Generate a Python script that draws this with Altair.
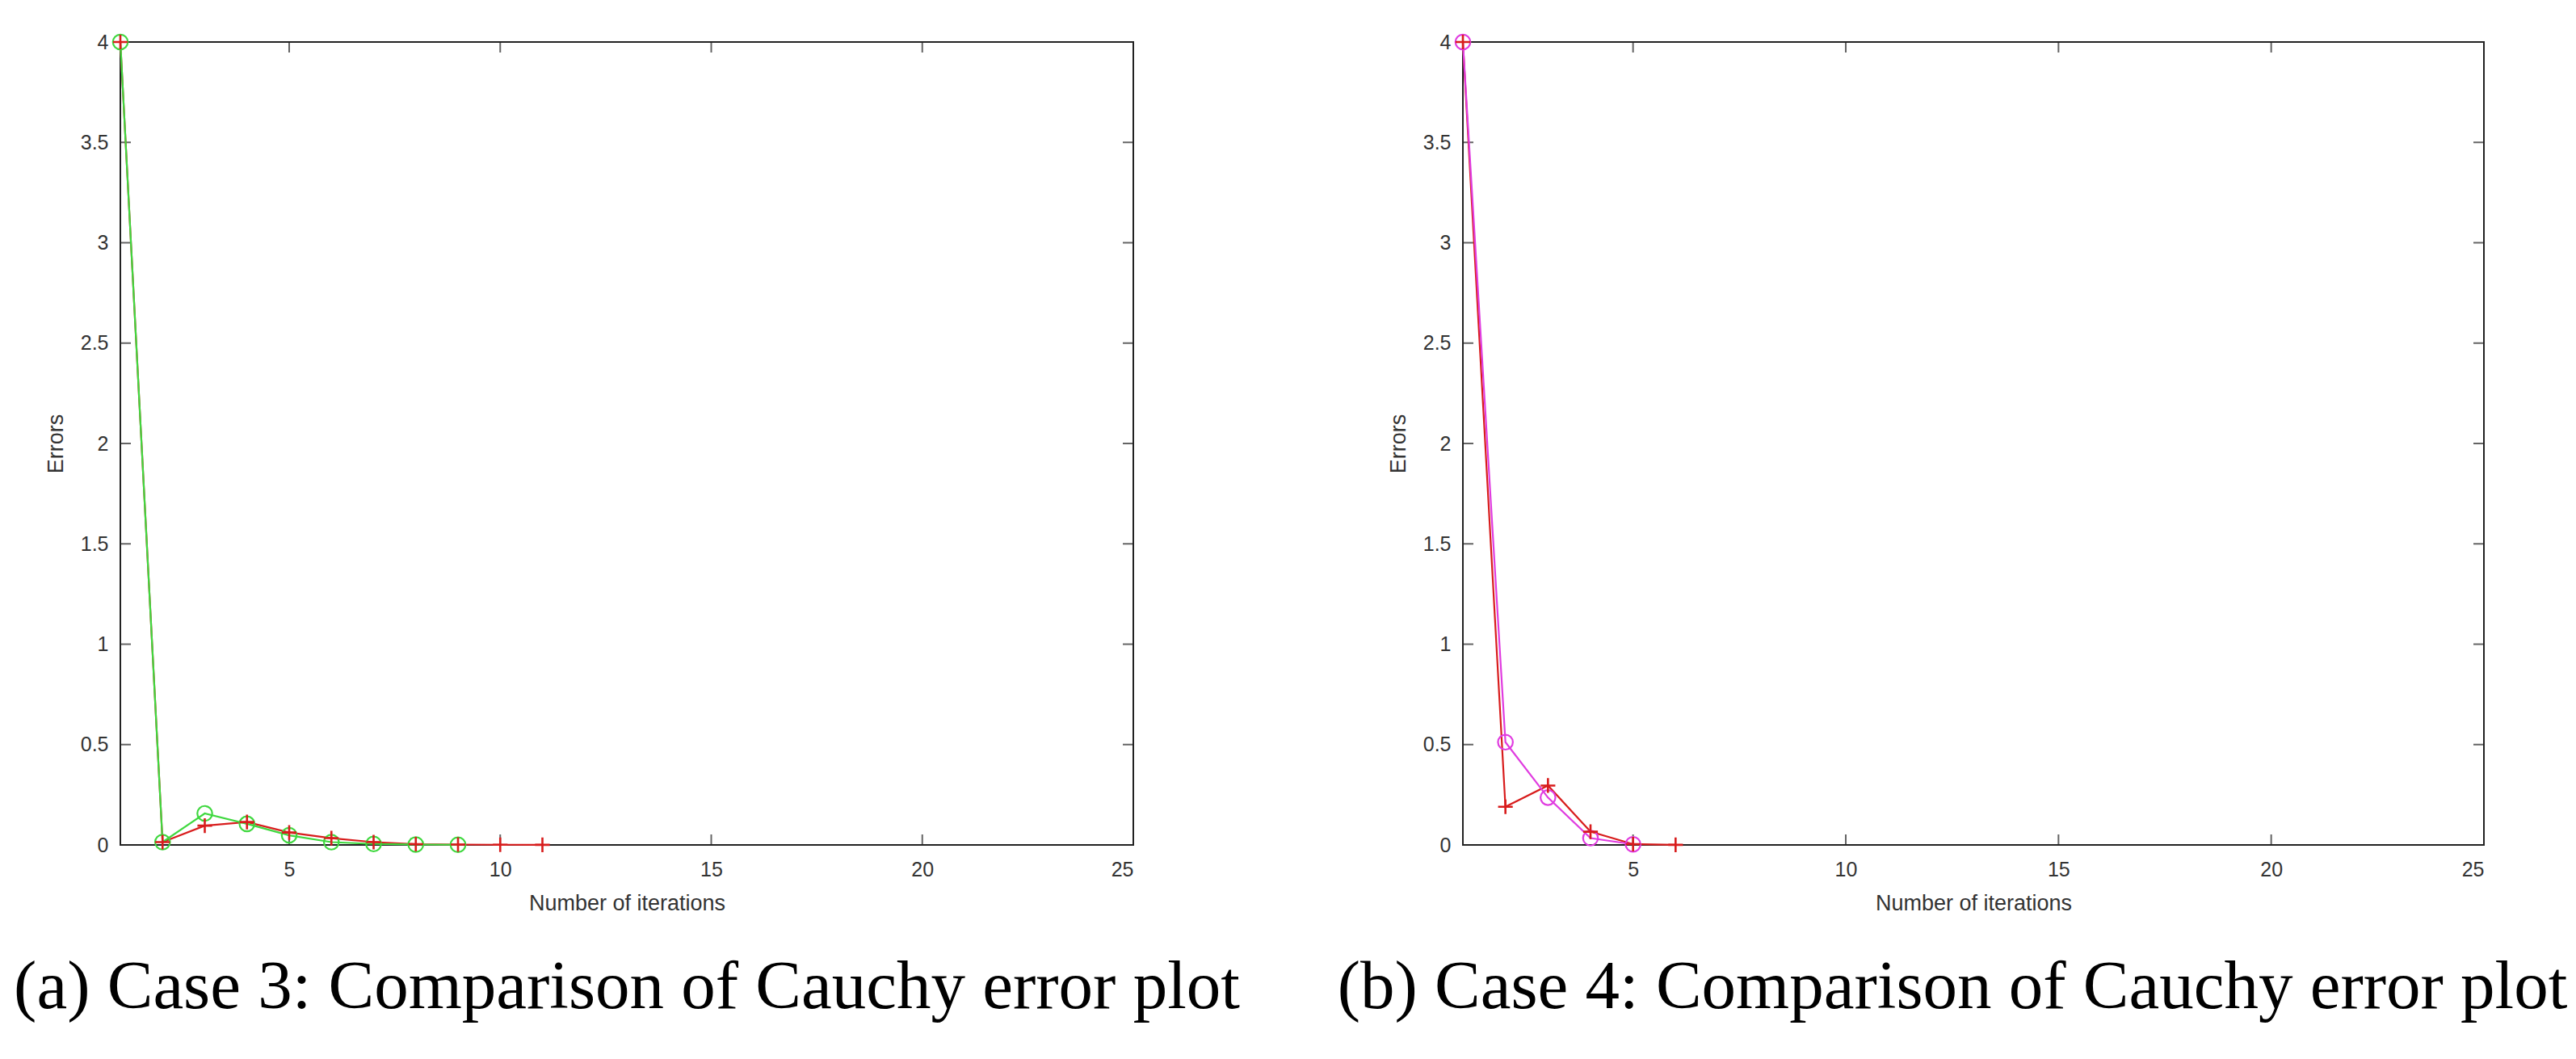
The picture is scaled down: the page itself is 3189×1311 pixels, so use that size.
import altair as alt
import pandas as pd

# ---- data ----
iters_a_red = [1, 2, 3, 4, 5, 6, 7, 8, 9, 10, 11]
err_a_red = [4.0, 0.014, 0.096, 0.114, 0.062, 0.034, 0.014, 0.004, 0.002, 0.001, 0.0005]
iters_a_green = [1, 2, 3, 4, 5, 6, 7, 8, 9]
err_a_green = [4.0, 0.014, 0.157, 0.105, 0.048, 0.014, 0.005, 0.002, 0.001]

iters_b_red = [1, 2, 3, 4, 5, 6]
err_b_red = [4.0, 0.19, 0.296, 0.066, 0.004, 0.0005]
iters_b_mag = [1, 2, 3, 4, 5]
err_b_mag = [4.0, 0.512, 0.236, 0.034, 0.003]

x_ticks = [5, 10, 15, 20, 25]
y_ticks = [0, 0.5, 1, 1.5, 2, 2.5, 3, 3.5, 4]
x_domain = [1, 25]
y_domain = [0, 4]

caption_a = "(a) Case 3: Comparison of Cauchy error plot"
caption_b = "(b) Case 4: Comparison of Cauchy error plot"

RED = "#d81c1c"
GREEN = "#3fd83f"
MAGENTA = "#e03ce0"
PLUS = "M-1,0L1,0M0,-1L0,1"


def panel(series, width, height, caption, cap_dx):
    xs = alt.Scale(domain=x_domain, nice=False, zero=False)
    ys = alt.Scale(domain=y_domain, nice=False, zero=False)
    xax = alt.Axis(values=x_ticks, title="Number of iterations", labelExpr="'' + datum.value")
    yax = alt.Axis(values=y_ticks, title="Errors", labelExpr="'' + datum.value")

    # inward ticks on all four sides (clipped at the frame)
    xt = pd.DataFrame([{"t": t, "e": e} for e in y_domain for t in x_ticks])
    yt = pd.DataFrame([{"t": t, "e": e} for e in x_domain for t in y_ticks])
    tick_x = alt.Chart(xt).mark_tick(orient="vertical", size=26, thickness=2, color="#222", clip=True).encode(
        x=alt.X("t:Q", scale=xs, axis=xax), y=alt.Y("e:Q", scale=ys, axis=yax))
    tick_y = alt.Chart(yt).mark_tick(orient="horizontal", size=26, thickness=2, color="#222", clip=True).encode(
        y=alt.Y("t:Q", scale=ys), x=alt.X("e:Q", scale=xs))

    layers = []
    for it, er, color, marker in series:
        df = pd.DataFrame({"iter": it, "err": er})
        base = alt.Chart(df)
        x = alt.X("iter:Q", scale=xs)
        y = alt.Y("err:Q", scale=ys)
        line = base.mark_line(color=color, strokeWidth=2.2).encode(x=x, y=y, order="iter:Q")
        if marker == "plus":
            pts = base.mark_point(shape=PLUS, filled=False, size=330, strokeWidth=2.6,
                                  color=color, opacity=1).encode(x=x, y=y)
        else:
            pts = base.mark_point(shape="circle", filled=False, size=340, strokeWidth=2.2,
                                  color=color, opacity=1).encode(x=x, y=y)
        layers.append((line, pts))

    (l1, p1), (l2, p2) = layers
    ch = alt.layer(tick_x, tick_y, l1, l2, p2, p1).properties(
        width=width,
        height=height,
        title=alt.TitleParams(
            text=caption, orient="bottom", anchor="middle", frame="group", dx=cap_dx,
            font="Liberation Serif", fontSize=85, fontWeight="normal", color="black", offset=50,
        ),
    )
    return ch


left = panel([(iters_a_red, err_a_red, RED, "plus"), (iters_a_green, err_a_green, GREEN, "circle")],
             1254, 994, caption_a, 0)
right = panel([(iters_b_red, err_b_red, RED, "plus"), (iters_b_mag, err_b_mag, MAGENTA, "circle")],
              1264, 994, caption_b, -26)

chart = (
    alt.hconcat(left, right, spacing=118)
    .properties(padding={"left": 8, "top": 28, "right": 0, "bottom": 5}, background="white")
    .configure_view(stroke="#222", strokeWidth=2)
    .configure_axis(
        grid=False, domain=False, ticks=False,
        labelFont="Liberation Sans", labelFontSize=25, labelColor="#333",
        titleFont="Liberation Sans", titleFontSize=27, titleColor="#333", titleFontWeight="normal",
    )
    .configure_axisX(labelPadding=18, titlePadding=16)
    .configure_axisY(labelPadding=15, titlePadding=16)
)

chart.save("out.html", embed_options={"renderer": "svg", "actions": False})
